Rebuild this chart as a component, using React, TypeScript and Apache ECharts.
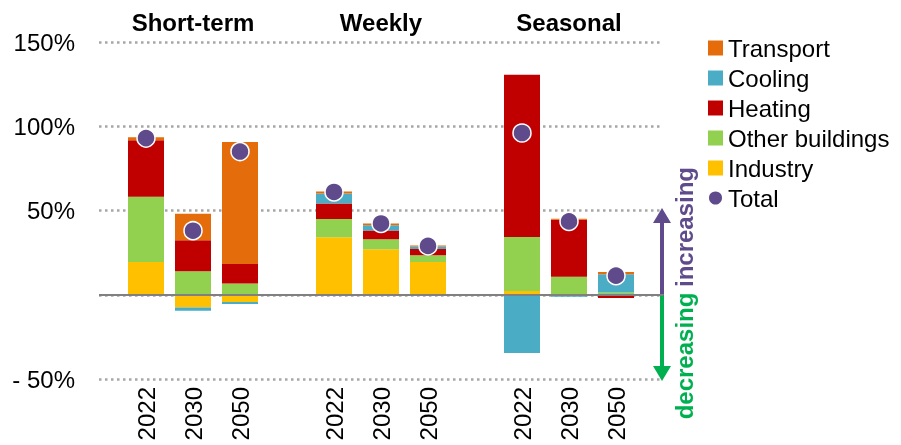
import React, { useEffect, useRef } from "react";
import * as echarts from "echarts";

// ---- data (percent) ----
const groups = ["Short-term", "Weekly", "Seasonal"];
const years = ["2022", "2030", "2050"];
// order of bars: Short-term 2022/2030/2050, Weekly 2022/2030/2050, Seasonal 2022/2030/2050
const industry = [19.5, -7.5, -4.3, 34.1, 27.0, 19.4, 2.2, 0.5, 0.3];
const otherBuildings = [38.7, 13.9, 6.7, 10.9, 5.9, 4.0, 32.0, 10.2, 1.1];
const heating = [33.5, 18.4, 11.6, 9.2, 5.2, 3.7, 96.4, 33.8, -2.0];
const cooling = [0, -2.0, -1.2, 5.9, 3.2, 1.5, -34.5, -1.2, 10.7];
const transport = [1.8, 15.7, 72.3, 1.2, 1.0, 0.7, 0, 0.6, 1.4];
const total = [93, 38, 85, 61, 42.3, 29, 96, 43.5, 11.3];
const yTicks = [-50, 0, 50, 100, 150];

const colors = {
  Transport: "#E46C0A",
  Cooling: "#4BACC6",
  Heating: "#C00000",
  "Other buildings": "#92D050",
  Industry: "#FFC000",
  Total: "#5F4B8B",
};

const FONT = "'Liberation Sans', Arial, sans-serif";

// category slots: a blank slot before, between and after the groups
const yearCats: string[] = [""];
const groupCats: string[] = [""];
groups.forEach((g) => {
  years.forEach((y, j) => {
    yearCats.push(y);
    groupCats.push(j === 1 ? g : "");
  });
  yearCats.push("");
  groupCats.push("");
});
const expand = (arr: number[]) => {
  const out: (number | string)[] = ["-"];
  groups.forEach((_, g) => {
    years.forEach((_, j) => out.push(arr[g * years.length + j]));
    out.push("-");
  });
  return out;
};

export default function App() {
  const ref = useRef<HTMLDivElement>(null);
  useEffect(() => {
    if (!ref.current) return;
    const chart = echarts.init(ref.current, undefined, { renderer: "svg" });
    const barSeries = (name: string, data: number[]) => ({
      name,
      type: "bar",
      stack: "s",
      barWidth: 36,
      data: expand(data),
      itemStyle: { color: (colors as any)[name] },
    });
    chart.setOption({
      animation: false,
      textStyle: { fontFamily: FONT },
      grid: { left: 99, right: 238, top: 42, bottom: 66, containLabel: false },
      legend: {
        orient: "vertical",
        left: 702,
        top: 31,
        itemWidth: 15,
        itemHeight: 15,
        itemGap: 6,
        textStyle: { fontFamily: FONT, fontSize: 24, color: "#000", lineHeight: 24 },
        data: [
          { name: "Transport", icon: "rect" },
          { name: "Cooling", icon: "rect" },
          { name: "Heating", icon: "rect" },
          { name: "Other buildings", icon: "rect" },
          { name: "Industry", icon: "rect" },
          { name: "Total", icon: "circle" },
        ],
      },
      xAxis: [
        {
          type: "category",
          position: "bottom",
          data: yearCats,
          boundaryGap: false,
          axisLine: { show: false },
          axisTick: { show: false },
          splitLine: { show: false },
          axisLabel: {
            interval: 0,
            rotate: 90,
            margin: 8,
            fontSize: 24,
            color: "#000",
            fontFamily: FONT,
          },
        },
        {
          type: "category",
          position: "top",
          data: groupCats,
          boundaryGap: false,
          axisLine: { show: false },
          axisTick: { show: false },
          splitLine: { show: false },
          axisLabel: {
            interval: 0,
            margin: 8,
            fontSize: 24,
            fontWeight: "bold",
            color: "#000",
            fontFamily: FONT,
          },
        },
      ],
      yAxis: {
        type: "value",
        min: yTicks[0],
        max: yTicks[yTicks.length - 1],
        interval: 50,
        axisLine: { show: false },
        axisTick: { show: false },
        axisLabel: {
          margin: 24,
          fontSize: 24,
          color: "#000",
          fontFamily: FONT,
          formatter: (v: number) => (v === 0 ? "" : v < 0 ? "- " + Math.abs(v) + "%" : v + "%"),
        },
        splitLine: {
          lineStyle: { color: "#A6A6A6", width: 2.5, type: [2.5, 3.5] },
        },
      },
      series: [
        {
          ...barSeries("Industry", industry),
          markLine: {
            silent: true,
            symbol: "none",
            label: { show: false },
            lineStyle: { color: "#808080", width: 2, type: "solid" },
            data: [{ yAxis: 0 }],
          },
        },
        barSeries("Other buildings", otherBuildings),
        barSeries("Heating", heating),
        barSeries("Cooling", cooling),
        barSeries("Transport", transport),
        {
          name: "Total",
          type: "scatter",
          data: expand(total),
          symbolSize: 18,
          z: 5,
          itemStyle: { color: colors.Total, borderColor: "#fff", borderWidth: 1.5, opacity: 1 },
        },
      ],
      graphic: [
        { type: "line", shape: { x1: 662, y1: 294.75, x2: 662, y2: 222 }, style: { stroke: "#5F4B8B", lineWidth: 4 } },
        { type: "polygon", shape: { points: [[653, 223], [671, 223], [662, 208]] }, style: { fill: "#5F4B8B" } },
        { type: "line", shape: { x1: 662, y1: 294.75, x2: 662, y2: 367 }, style: { stroke: "#00B050", lineWidth: 4 } },
        { type: "polygon", shape: { points: [[653, 366], [671, 366], [662, 381]] }, style: { fill: "#00B050" } },
        {
          type: "text",
          x: 684,
          y: 227,
          rotation: Math.PI / 2,
          style: { text: "increasing", fill: "#5F4B8B", font: `bold 24px ${FONT}`, align: "center", verticalAlign: "middle" },
        },
        {
          type: "text",
          x: 684,
          y: 356,
          rotation: Math.PI / 2,
          style: { text: "decreasing", fill: "#00B050", font: `bold 24px ${FONT}`, align: "center", verticalAlign: "middle" },
        },
      ],
    });
    return () => chart.dispose();
  }, []);
  return <div ref={ref} style={{ position: "fixed", left: 0, top: 0, width: 901, height: 445 }} />;
}
